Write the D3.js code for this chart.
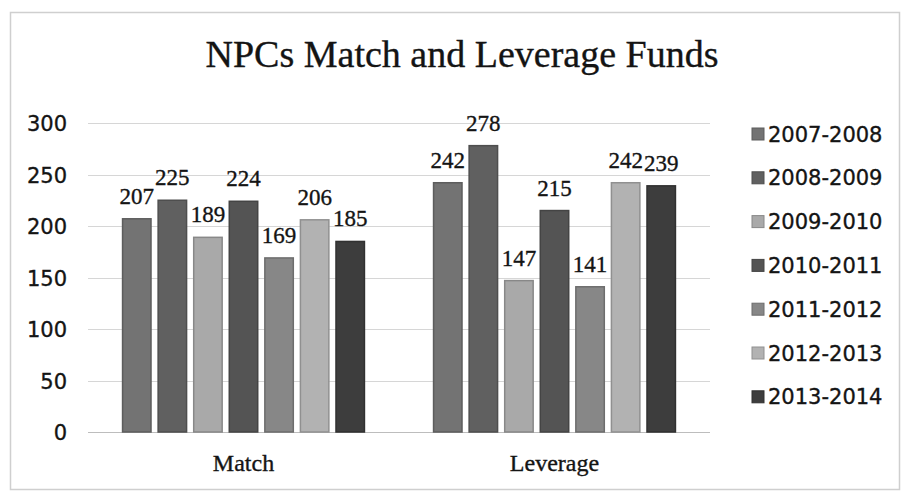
<!DOCTYPE html>
<html>
<head>
<meta charset="utf-8">
<script src="https://cdn.jsdelivr.net/npm/d3@7"></script>
<style>
  body { margin: 0; background: #fff; }
  svg { display: block; }
  text { fill: #141414; stroke: #141414; stroke-width: 0.35px; }
</style>
</head>
<body>
<svg id="chart"></svg>
<script>
// Chart data
const categories = ["Match", "Leverage"];
const seasons = ["2007-2008", "2008-2009", "2009-2010", "2010-2011", "2011-2012", "2012-2013", "2013-2014"];
const matchValues = [207, 225, 189, 224, 169, 206, 185];
const leverageValues = [242, 278, 147, 215, 141, 242, 239];
const yTicks = [0, 50, 100, 150, 200, 250, 300];

const seriesColors = ["#737373", "#606060", "#a9a9a9", "#545454", "#878787", "#b2b2b2", "#3d3d3d"];

const W = 901, H = 493;
const plot = { left: 88, right: 710, top: 123, bottom: 432 };
const serif = "'Liberation Serif', 'Times New Roman', serif";
const sans = "'DejaVu Sans', sans-serif";

const svg = d3.select("#chart")
    .attr("width", W)
    .attr("height", H);

// Faint frame of the scanned chart
svg.append("rect")
    .attr("x", 10.5).attr("y", 12.5)
    .attr("width", W - 12).attr("height", H - 16)
    .attr("fill", "none")
    .attr("stroke", "#cfcfcf")
    .attr("stroke-width", 1.5);

// Title
svg.append("text")
    .attr("x", 462)
    .attr("y", 67)
    .attr("text-anchor", "middle")
    .attr("font-family", serif)
    .attr("font-size", 38)
    .text("NPCs Match and Leverage Funds");

const table = categories.map((c, i) => ({
    category: c,
    values: seasons.map((s, j) => ({ season: s, value: i === 0 ? matchValues[j] : leverageValues[j] }))
}));

const x0 = d3.scaleBand()
    .domain(categories)
    .range([plot.left, plot.right])
    .paddingInner(0)
    .paddingOuter(0);

const groupPad = 31; // space each side of a group
const x1 = d3.scaleBand()
    .domain(seasons)
    .range([0, x0.bandwidth() - 2 * groupPad])
    .paddingInner(0.2)
    .paddingOuter(0.1);

const y = d3.scaleLinear()
    .domain([0, 300])
    .range([plot.bottom, plot.top]);

const color = d3.scaleOrdinal().domain(seasons).range(seriesColors);

// Gridlines
svg.append("g")
    .selectAll("line")
    .data(yTicks)
    .enter().append("line")
    .attr("x1", plot.left)
    .attr("x2", plot.right)
    .attr("y1", d => Math.round(y(d)) + 0.5)
    .attr("y2", d => Math.round(y(d)) + 0.5)
    .attr("stroke", d => d === 0 ? "#bdbdbd" : "#d6d6d6")
    .attr("stroke-width", 1.2);

// Y axis labels
const yAxis = svg.append("g")
    .attr("transform", `translate(${plot.left - 21},0)`)
    .call(d3.axisLeft(y).tickValues(yTicks).tickSize(0).tickPadding(0));
yAxis.select(".domain").remove();
yAxis.selectAll("text")
    .attr("font-family", sans)
    .attr("font-size", 21)
    .attr("dy", "0.36em");

// Bars
const groups = svg.append("g")
    .selectAll("g")
    .data(table)
    .enter().append("g")
    .attr("transform", d => `translate(${x0(d.category) + groupPad},0)`);

groups.selectAll("rect")
    .data(d => d.values)
    .enter().append("rect")
    .attr("x", d => x1(d.season))
    .attr("y", d => y(d.value))
    .attr("width", x1.bandwidth())
    .attr("height", d => y(0) - y(d.value))
    .attr("fill", d => color(d.season))
    .attr("stroke", d => d3.color(color(d.season)).darker(0.6))
    .attr("stroke-width", 1.5);

groups.selectAll(".bar-label")
    .data(d => d.values)
    .enter().append("text")
    .attr("class", "bar-label")
    .attr("x", d => x1(d.season) + x1.bandwidth() / 2)
    .attr("y", d => y(d.value) - 15)
    .attr("text-anchor", "middle")
    .attr("font-family", serif)
    .attr("font-size", 23)
    .text(d => d.value);

// Category labels
svg.append("g")
    .selectAll("text")
    .data(categories)
    .enter().append("text")
    .attr("x", d => x0(d) + x0.bandwidth() / 2)
    .attr("y", 471)
    .attr("text-anchor", "middle")
    .attr("font-family", serif)
    .attr("font-size", 24)
    .text(d => d);

// Legend
const legend = svg.append("g")
    .attr("transform", "translate(752,134)");

const items = legend.selectAll("g")
    .data(seasons)
    .enter().append("g")
    .attr("transform", (d, i) => `translate(0,${i * 43.8})`);

items.append("rect")
    .attr("x", 0).attr("y", -6)
    .attr("width", 12).attr("height", 12)
    .attr("fill", d => color(d))
    .attr("stroke", d => d3.color(color(d)).darker(0.6));

items.append("text")
    .attr("x", 16)
    .attr("dy", "0.36em")
    .attr("font-family", sans)
    .attr("font-size", 21)
    .text(d => d);
</script>
</body>
</html>
